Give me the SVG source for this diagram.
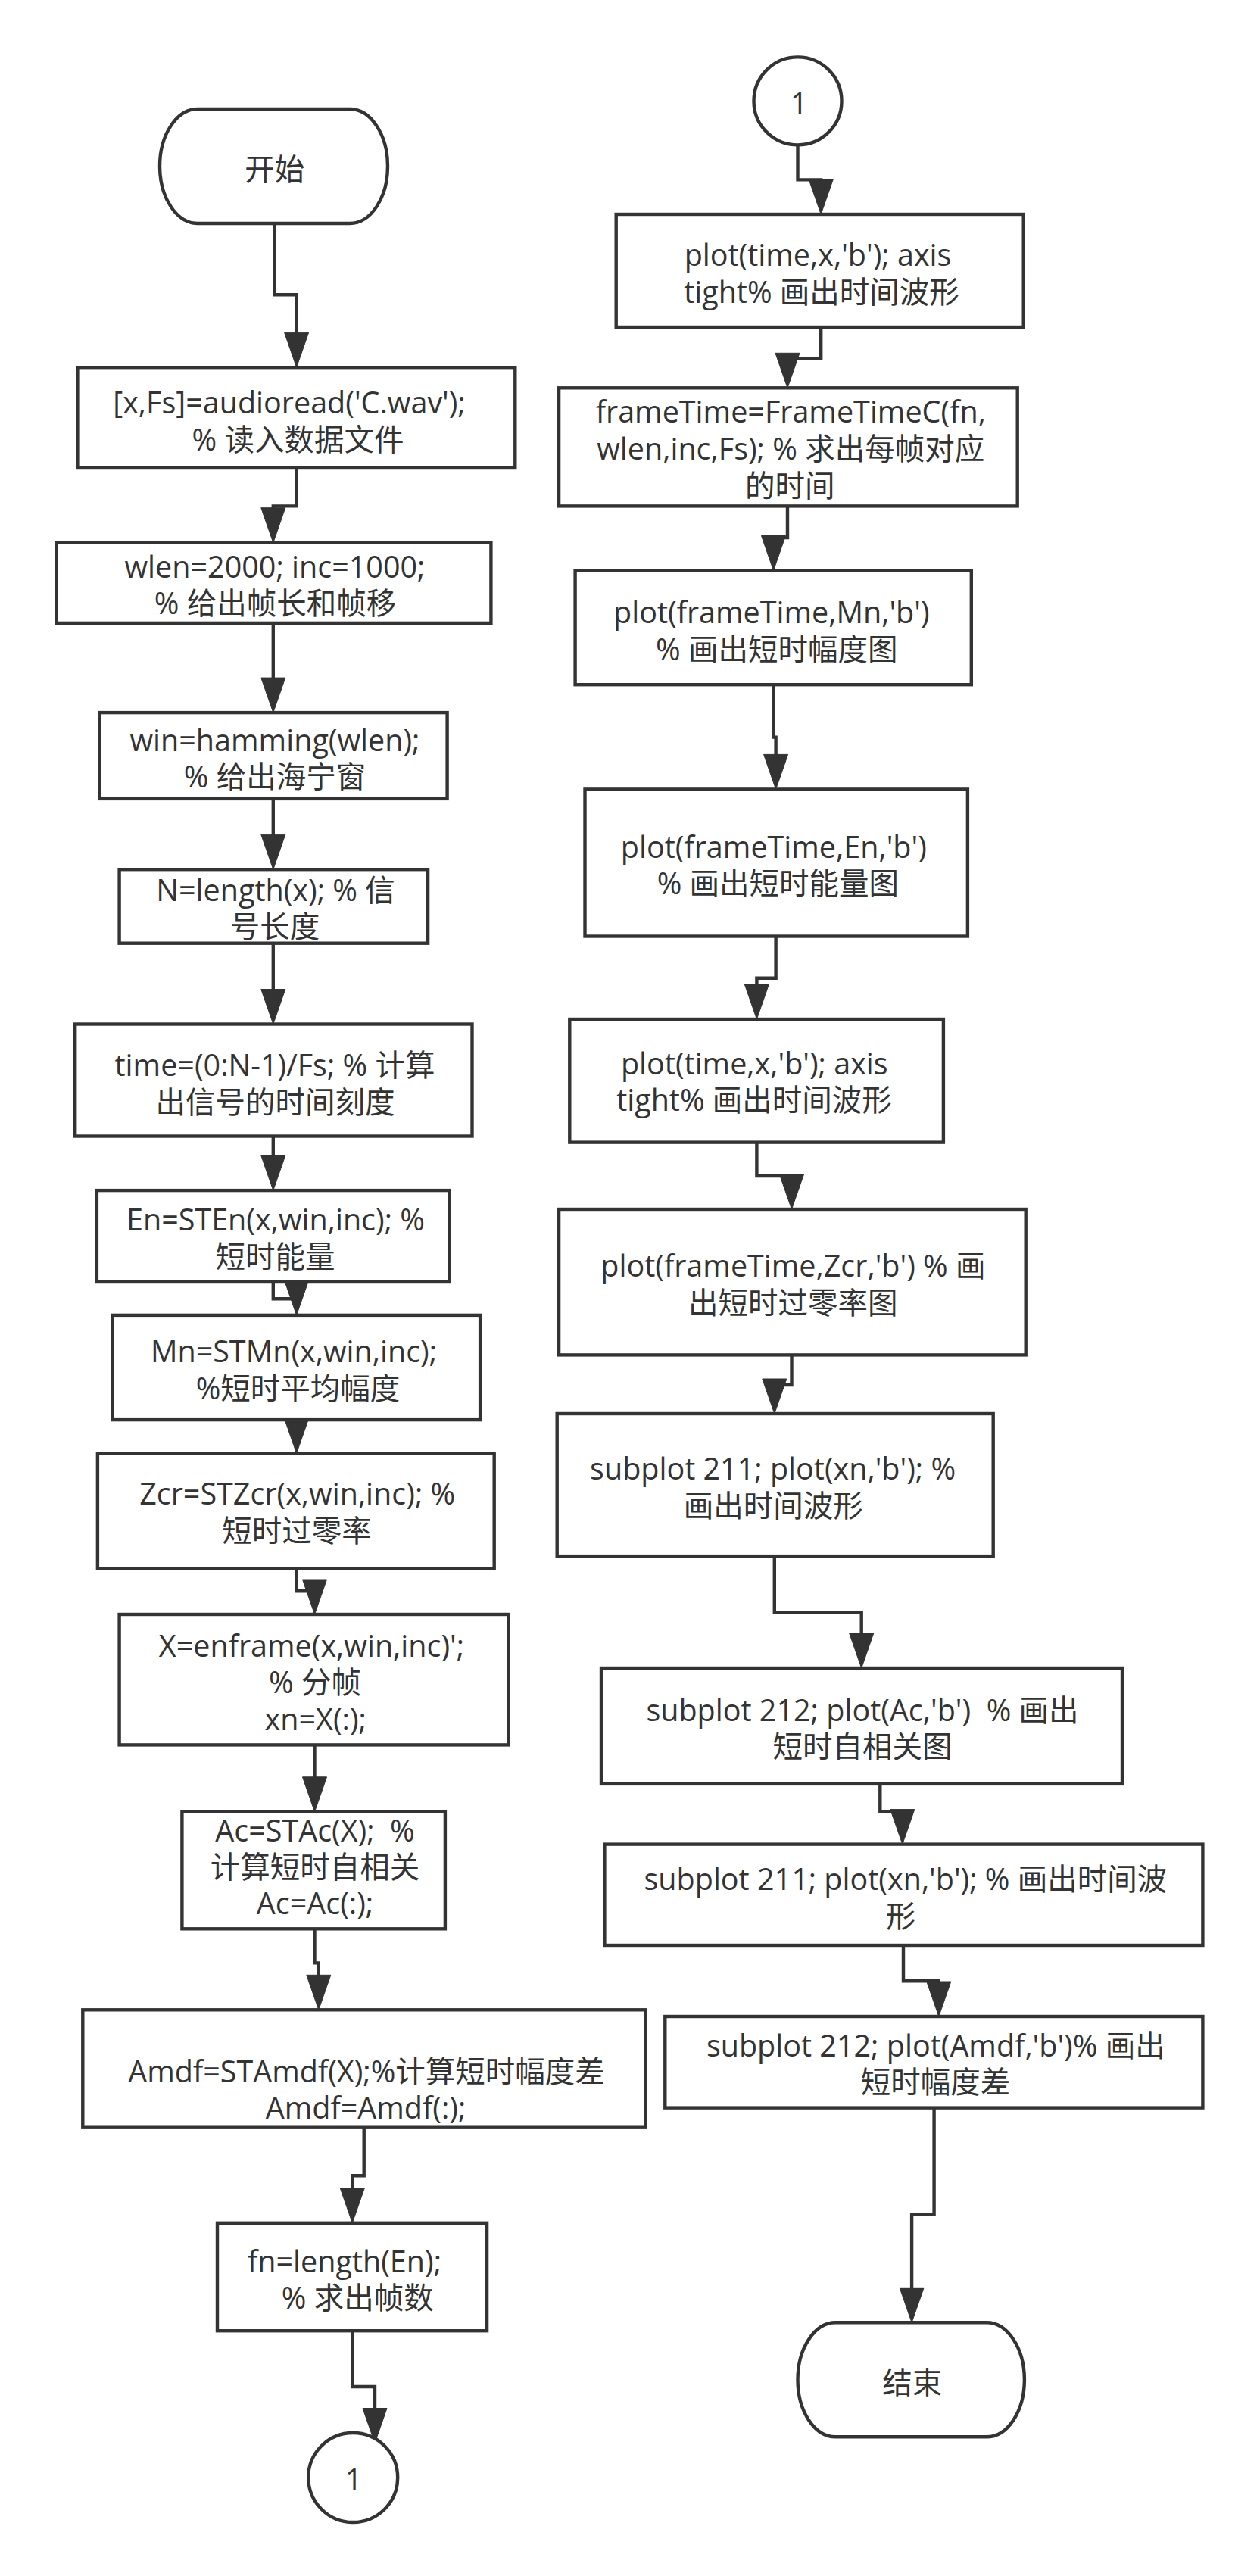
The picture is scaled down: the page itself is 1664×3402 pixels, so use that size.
<svg xmlns="http://www.w3.org/2000/svg" xmlns:xlink="http://www.w3.org/1999/xlink" width="1664" height="3402" viewBox="0 0 1664 3402">
<style>
.n{fill:#fff;stroke:#333;stroke-width:4.4}
.t{font-family:"Open Sans","Noto Sans CJK SC",sans-serif;font-size:39.5px;fill:#333;text-anchor:middle;white-space:pre}
.c{fill:none;stroke:#333;stroke-width:4.4}
.a{fill:#333;stroke:#333;stroke-width:1}
</style>
<defs>
<path id="ah" d="M-16,-46 L16,-46 L0,0 Z"/>
</defs>
<rect width="1664" height="3402" fill="#fff"/>
<g id="connectors">
<path class="c" d="M362.4,295.4 V389.2 H391.6 V475"/>
<use xlink:href="#ah" class="a" x="391.6" y="485.2"/>
<path class="c" d="M391.6,618 V668.4 H360.8 V706.7"/>
<use xlink:href="#ah" class="a" x="360.8" y="716.7"/>
<path class="c" d="M360.8,822.9 V931"/>
<use xlink:href="#ah" class="a" x="360.8" y="941.1"/>
<path class="c" d="M360.8,1054.9 V1138"/>
<use xlink:href="#ah" class="a" x="360.8" y="1148.2"/>
<path class="c" d="M360.8,1245.7 V1342.5"/>
<use xlink:href="#ah" class="a" x="360.8" y="1352.5"/>
<path class="c" d="M360.8,1500.5 V1562"/>
<use xlink:href="#ah" class="a" x="360.8" y="1572.1"/>
<path class="c" d="M360.8,1693 V1715.2 H391.6 V1727"/>
<use xlink:href="#ah" class="a" x="391.6" y="1736.9"/>
<path class="c" d="M391.6,1875.1 V1909"/>
<use xlink:href="#ah" class="a" x="391.6" y="1919.5"/>
<path class="c" d="M391.6,2071.3 V2101.2 H415.5 V2122"/>
<use xlink:href="#ah" class="a" x="415.5" y="2132"/>
<path class="c" d="M415.5,2304.4 V2383"/>
<use xlink:href="#ah" class="a" x="415.5" y="2392.8"/>
<path class="c" d="M415.5,2547.3 V2592.4 H420.8 V2644"/>
<use xlink:href="#ah" class="a" x="420.8" y="2654.3"/>
<path class="c" d="M480.7,2809.7 V2873.3 H465.3 V2926"/>
<use xlink:href="#ah" class="a" x="465.3" y="2935.8"/>
<path class="c" d="M465.3,3078.2 V3152 H495 V3216"/>
<use xlink:href="#ah" class="a" x="495" y="3226.5"/>
<path class="c" d="M1053.5,190.8 V237.4 H1084.2 V273"/>
<use xlink:href="#ah" class="a" x="1084.2" y="283"/>
<path class="c" d="M1084.2,432 V473.3 H1040 V502"/>
<use xlink:href="#ah" class="a" x="1040" y="512.3"/>
<path class="c" d="M1040,668.4 V710.1 H1021.5 V743.5"/>
<use xlink:href="#ah" class="a" x="1021.5" y="753.5"/>
<path class="c" d="M1021.5,904.2 V973.6 H1024.6 V1032"/>
<use xlink:href="#ah" class="a" x="1024.6" y="1042.4"/>
<path class="c" d="M1024.6,1236.5 V1291.8 H999.4 V1336"/>
<use xlink:href="#ah" class="a" x="999.4" y="1346"/>
<path class="c" d="M999.4,1508.6 V1553.1 H1045.5 V1587"/>
<use xlink:href="#ah" class="a" x="1045.5" y="1597"/>
<path class="c" d="M1045.5,1789.4 V1829 H1022.8 V1857"/>
<use xlink:href="#ah" class="a" x="1022.8" y="1867"/>
<path class="c" d="M1022.8,2055.1 V2129.3 H1137.7 V2193"/>
<use xlink:href="#ah" class="a" x="1137.7" y="2203"/>
<path class="c" d="M1162.3,2355.9 V2392.8 H1191.8 V2425.6"/>
<use xlink:href="#ah" class="a" x="1191.8" y="2435.6"/>
<path class="c" d="M1193,2569 V2616.3 H1239.8 V2653"/>
<use xlink:href="#ah" class="a" x="1239.8" y="2663"/>
<path class="c" d="M1233.6,2783.6 V2924.9 H1204.1 V3057"/>
<use xlink:href="#ah" class="a" x="1204.1" y="3067.3"/>
</g>
<g id="start">
<rect class="n" x="211" y="144" width="301" height="151" rx="50" ry="75.5"/>
<text class="t" x="362.7" y="238">开始</text>
</g>
<g id="n1">
<rect class="n" x="102.4" y="485.2" width="577.9" height="132.8"/>
<text class="t"><tspan x="382" y="546.4">[x,Fs]=audioread('C.wav');</tspan><tspan x="393.5" y="594.7">% 读入数据文件</tspan></text>
</g>
<g id="n2">
<rect class="n" x="74.3" y="716.7" width="574.1" height="106.2"/>
<text class="t"><tspan x="363" y="762.9">wlen=2000; inc=1000;</tspan><tspan x="363.5" y="811.1">% 给出帧长和帧移</tspan></text>
</g>
<g id="n3">
<rect class="n" x="131.6" y="941.1" width="459" height="113.8"/>
<text class="t"><tspan x="363" y="991.7">win=hamming(wlen);</tspan><tspan x="363" y="1040">% 给出海宁窗</tspan></text>
</g>
<g id="n4">
<rect class="n" x="157.6" y="1148.2" width="407.5" height="97.5"/>
<text class="t"><tspan x="364" y="1189.9">N=length(x); % 信</tspan><tspan x="363" y="1238.1">号长度</tspan></text>
</g>
<g id="n5">
<rect class="n" x="99.2" y="1352.5" width="524.3" height="148"/>
<text class="t"><tspan x="363" y="1420.8">time=(0:N-1)/Fs; % 计算</tspan><tspan x="363.5" y="1469.6">出信号的时间刻度</tspan></text>
</g>
<g id="n6">
<rect class="n" x="127.9" y="1572.1" width="465.3" height="120.9"/>
<text class="t"><tspan x="364" y="1625.2">En=STEn(x,win,inc); %</tspan><tspan x="363.5" y="1674">短时能量</tspan></text>
</g>
<g id="n7">
<rect class="n" x="148.6" y="1736.9" width="485.5" height="138.2"/>
<text class="t"><tspan x="388" y="1799.2">Mn=STMn(x,win,inc);</tspan><tspan x="393.5" y="1847.5">%短时平均幅度</tspan></text>
</g>
<g id="n8">
<rect class="n" x="128.9" y="1919.5" width="523.8" height="151.8"/>
<text class="t"><tspan x="392.7" y="1987.3">Zcr=STZcr(x,win,inc); %</tspan><tspan x="392" y="2036">短时过零率</tspan></text>
</g>
<g id="n9">
<rect class="n" x="157.6" y="2132" width="513.6" height="172.4"/>
<text class="t"><tspan x="411.5" y="2187.9">X=enframe(x,win,inc)';</tspan><tspan x="416" y="2236.4">% 分帧</tspan><tspan x="416.8" y="2284.7">xn=X(:);</tspan></text>
</g>
<g id="n10">
<rect class="n" x="240.4" y="2392.8" width="347.5" height="154.5"/>
<text class="t"><tspan x="416" y="2431.5">Ac=STAc(X);  %</tspan><tspan x="416" y="2479.8">计算短时自相关</tspan><tspan x="416" y="2528.1">Ac=Ac(:);</tspan></text>
</g>
<g id="n11">
<rect class="n" x="109.3" y="2654.3" width="743.2" height="155.4"/>
<text class="t"><tspan x="484" y="2749.5">Amdf=STAmdf(X);%计算短时幅度差</tspan><tspan x="483" y="2797.8">Amdf=Amdf(:);</tspan></text>
</g>
<g id="n12">
<rect class="n" x="287" y="2935.8" width="356.1" height="142.4"/>
<text class="t"><tspan x="455" y="3000.8">fn=length(En);</tspan><tspan x="472.2" y="3049.1">% 求出帧数</tspan></text>
</g>
<g id="conn-out">
<circle class="n" cx="466.2" cy="3272" r="59"/>
<text class="t" x="467" y="3289">1</text>
</g>
<g id="conn-in">
<circle class="n" cx="1053.5" cy="133.4" r="58"/>
<text class="t" x="1055.3" y="150.7">1</text>
</g>
<g id="r1">
<rect class="n" x="813.7" y="283" width="538" height="149"/>
<text class="t"><tspan x="1080" y="351.3">plot(time,x,'b'); axis</tspan><tspan x="1085" y="400">tight% 画出时间波形</tspan></text>
</g>
<g id="r2">
<rect class="n" x="738.1" y="512.3" width="605.6" height="156.1"/>
<text class="t"><tspan x="1044.3" y="558.4">frameTime=FrameTimeC(fn,</tspan><tspan x="1044.2" y="607.2">wlen,inc,Fs); % 求出每帧对应</tspan><tspan x="1043.3" y="656">的时间</tspan></text>
</g>
<g id="r3">
<rect class="n" x="759.6" y="753.5" width="523.2" height="150.7"/>
<text class="t"><tspan x="1018.8" y="823.4">plot(frameTime,Mn,'b')</tspan><tspan x="1025.8" y="871.7">% 画出短时幅度图</tspan></text>
</g>
<g id="r4">
<rect class="n" x="772.5" y="1042.4" width="505.4" height="194.1"/>
<text class="t"><tspan x="1021.8" y="1132.8">plot(frameTime,En,'b')</tspan><tspan x="1027.4" y="1181.1">% 画出短时能量图</tspan></text>
</g>
<g id="r5">
<rect class="n" x="752.3" y="1346" width="493.6" height="162.6"/>
<text class="t"><tspan x="996.3" y="1418.9">plot(time,x,'b'); axis</tspan><tspan x="996" y="1467.2">tight% 画出时间波形</tspan></text>
</g>
<g id="r6">
<rect class="n" x="738.1" y="1597" width="616.6" height="192.4"/>
<text class="t"><tspan x="1047.4" y="1686.4">plot(frameTime,Zcr,'b') % 画</tspan><tspan x="1047.3" y="1734.7">出短时过零率图</tspan></text>
</g>
<g id="r7">
<rect class="n" x="735.7" y="1867" width="576" height="188.1"/>
<text class="t"><tspan x="1020.6" y="1953.7">subplot 211; plot(xn,'b'); %</tspan><tspan x="1021.2" y="2002.5">画出时间波形</tspan></text>
</g>
<g id="r8">
<rect class="n" x="794" y="2203" width="688" height="152.9"/>
<text class="t"><tspan x="1139" y="2273">subplot 212; plot(Ac,'b')  % 画出</tspan><tspan x="1139" y="2321.3">短时自相关图</tspan></text>
</g>
<g id="r9">
<rect class="n" x="798.4" y="2435.6" width="790" height="133.4"/>
<text class="t"><tspan x="1195.9" y="2496.3">subplot 211; plot(xn,'b'); % 画出时间波</tspan><tspan x="1189.7" y="2544.6">形</tspan></text>
</g>
<g id="r10">
<rect class="n" x="878.3" y="2663" width="710.1" height="120.6"/>
<text class="t"><tspan x="1235.8" y="2715.5">subplot 212; plot(Amdf,'b')% 画出</tspan><tspan x="1235.5" y="2763.8">短时幅度差</tspan></text>
</g>
<g id="end">
<rect class="n" x="1053.5" y="3067.3" width="299.4" height="151" rx="50" ry="75.5"/>
<text class="t" x="1204.7" y="3161">结束</text>
</g>
</svg>
